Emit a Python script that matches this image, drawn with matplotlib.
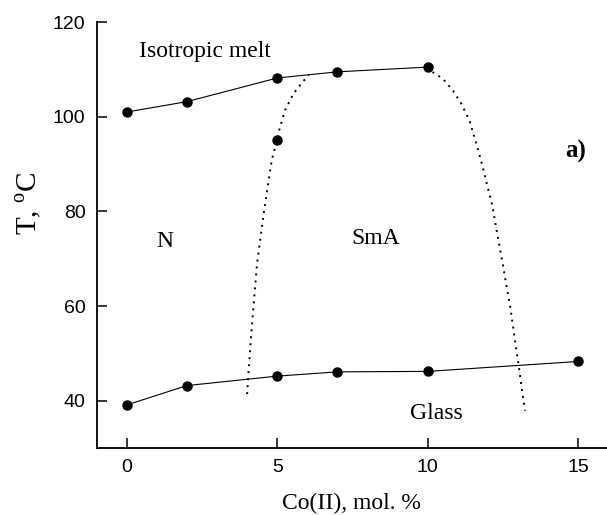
import numpy as np
import matplotlib
matplotlib.use('Agg')
import matplotlib.pyplot as plt

plt.rcParams['font.family'] = 'Liberation Serif'
plt.rcParams['mathtext.fontset'] = 'custom'
plt.rcParams['mathtext.rm'] = 'Liberation Serif'

# 清亮点 (isotropic melt boundary)
co_top = [0, 2, 5, 7, 10]
t_top = [101.0, 103.2, 108.2, 109.5, 110.5]

# 玻璃化温度
co_glass = [0, 2, 5, 7, 10, 15]
t_glass = [39.1, 43.2, 45.2, 46.1, 46.2, 48.3]

# N / SmA 相界 (dotted), 5% 处的点
co_ns = [5]
t_ns = [95.2]

ns_x = [4.00, 4.05, 4.13, 4.22, 4.33, 4.46, 4.55, 4.68, 4.82, 5.00, 5.08, 5.26, 5.54, 5.89, 6.05]
ns_y = [41.4, 46.3, 53.4, 60.5, 68.9, 75.2, 79.5, 85.1, 90.9, 95.2, 97.5, 101.4, 104.9, 107.7, 108.8]

# SmA 右边界
sr_x = [10.0, 10.07, 10.49, 10.84, 11.11, 11.39, 11.56, 11.72, 11.85, 12.0, 12.14, 12.31,
        12.47, 12.6, 12.74, 12.88, 13.01, 13.13, 13.23]
sr_y = [110.5, 109.8, 108.1, 105.5, 102.8, 99.1, 95.4, 91.9, 88.7, 84.8, 81.3, 75.1,
        69.6, 64.7, 59.7, 53.4, 47.8, 42.1, 37.9]

xticks = [0, 5, 10, 15]
yticks = [40, 60, 80, 100, 120]

fig = plt.figure(figsize=(6.07, 5.15), dpi=100)
ax = fig.add_axes([0.159, 0.13, 0.841, 0.827])

dots = (0, (1, 2.6))
ax.plot(ns_x, ns_y, color='black', linestyle=dots, linewidth=1.4)
ax.plot(sr_x, sr_y, color='black', linestyle=dots, linewidth=1.4)

ax.plot(co_top, t_top, '-o', color='black', markersize=6.5, linewidth=0.8,
        markerfacecolor='black', markeredgecolor='black')
ax.plot(co_glass, t_glass, '-o', color='black', markersize=6.5, linewidth=0.8,
        markerfacecolor='black', markeredgecolor='black')
ax.plot(co_ns, t_ns, 'o', color='black', markersize=6.5)

ax.set_xlim(-1, 15.95)
ax.set_ylim(30, 120)
ax.set_xticks(xticks)
ax.set_yticks(yticks)
for lab in ax.get_xticklabels() + ax.get_yticklabels():
    lab.set_fontfamily('Liberation Sans')
    lab.set_fontsize(14)
ax.tick_params(direction='in', length=7, width=1.1, pad=8)

ax.spines['top'].set_visible(False)
ax.spines['right'].set_visible(False)
ax.spines['left'].set_linewidth(1.3)
ax.spines['bottom'].set_linewidth(1.3)

# 区域标注
ax.text(1.26, 73.7, 'N', fontsize=17, ha='center', va='center')
ax.text(8.28, 74.3, 'SmA', fontsize=17, ha='center', va='center')
ax.text(0.4, 113.7, 'Isotropic melt', fontsize=17, ha='left', va='center')
ax.text(10.28, 37.2, 'Glass', fontsize=17, ha='center', va='center')
ax.text(14.92, 92.6, 'a)', fontsize=18, fontweight='bold', ha='center', va='center')

ax.set_xlabel('Co(II), mol. %', fontsize=17, labelpad=12)
ax.set_ylabel(r'T, $^{\rm o}$C', fontsize=21)
ax.yaxis.set_label_coords(-0.105, 0.575)

plt.savefig('out.png', dpi=100)
